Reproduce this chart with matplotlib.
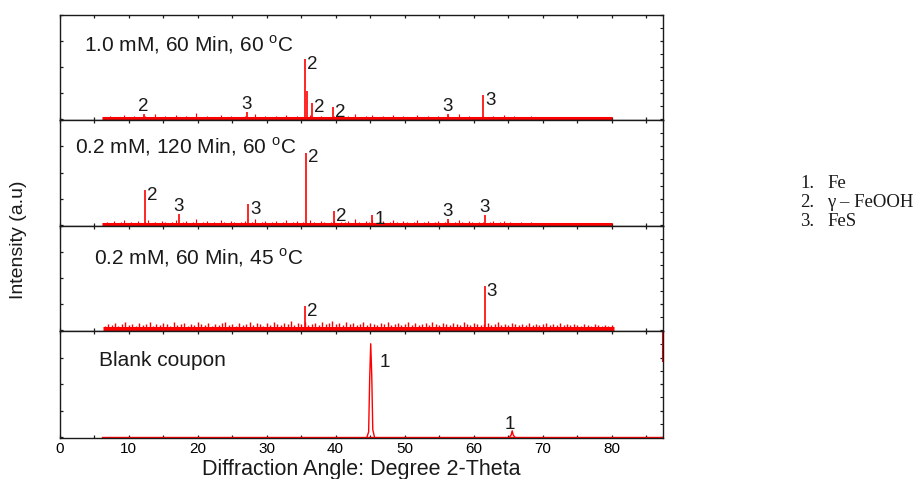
import numpy as np
import matplotlib
matplotlib.use("Agg")
import matplotlib.pyplot as plt
from matplotlib.ticker import MultipleLocator

plt.rcParams['font.family'] = ['Liberation Sans', 'DejaVu Sans']
plt.rcParams['mathtext.fontset'] = 'custom'
plt.rcParams['mathtext.rm'] = 'Liberation Sans'

RED = '#ff0000'
INK = '#1a1a1a'

# ---- data -------------------------------------------------------------
conditions = ['1.0 mM, 60 Min, 60 $^{\\rm o}$C',
              '0.2 mM, 120 Min, 60 $^{\\rm o}$C',
              '0.2 mM, 60 Min, 45 $^{\\rm o}$C',
              'Blank coupon']

# scan range (2-theta) of each pattern
scan_start = [6.1, 6.1, 6.3, 6.1]
scan_end = [80.0, 80.0, 80.3, 87.5]
bg_step = 0.5

# indexed reflections: position, relative intensity, phase number
peaks1_pos = [12.2, 27.1, 35.6, 35.85, 36.6, 39.6, 56.3, 61.4]
peaks1_h = [0.05, 0.07, 0.58, 0.27, 0.16, 0.12, 0.05, 0.23]
peaks1_lbl = ['2', '3', '2', '', '2', '2', '3', '3']
peaks1_side = ['a', 'a', 'r', '', 'r', 'r', 'a', 'r']

peaks2_pos = [12.4, 17.3, 27.3, 35.7, 39.8, 45.3, 56.3, 61.6]
peaks2_h = [0.33, 0.11, 0.20, 0.69, 0.13, 0.10, 0.06, 0.10]
peaks2_lbl = ['2', '3', '3', '2', '2', '1', '3', '3']
peaks2_side = ['r', 'a', 'r', 'r', 'r', 'r', 'a', 'a']

peaks3_pos = [35.6, 61.6]
peaks3_h = [0.23, 0.42]
peaks3_lbl = ['2', '3']
peaks3_side = ['r', 'r']

# blank coupon: Fe reflections recorded as line profiles
fe110_x = [44.55, 44.8, 44.95, 45.1, 45.25, 45.4, 45.65]
fe110_y = [0.0, 0.05, 0.55, 0.88, 0.58, 0.07, 0.0]
fe200_x = [65.2, 65.45, 65.6, 65.75, 66.0]
fe200_y = [0.0, 0.02, 0.06, 0.02, 0.0]
fe_lbl_pos = [45.1, 65.6]
fe_lbl_h = [0.88, 0.06]
edge_rise = (0.71, 1.0)

# background counts on a 0.5 deg grid
bg1 = [0.02, 0.01, 0.03, 0.02, 0.01, 0.02, 0.04, 0.01, 0.02, 0.03,
       0.01, 0.02, 0.03, 0.01, 0.02, 0.05, 0.02, 0.01, 0.03, 0.02,
       0.02, 0.04, 0.01, 0.02, 0.03, 0.01, 0.02, 0.06, 0.02, 0.01,
       0.03, 0.02, 0.01, 0.02, 0.04, 0.02, 0.01, 0.03, 0.02, 0.01,
       0.02, 0.03, 0.01, 0.02, 0.05, 0.01, 0.02, 0.03, 0.02, 0.01,
       0.03, 0.01, 0.02, 0.04, 0.02, 0.01, 0.03, 0.02, 0.01, 0.02,
       0.04, 0.02, 0.01, 0.03, 0.02, 0.01, 0.02, 0.03, 0.01, 0.02,
       0.02, 0.03, 0.01, 0.05, 0.02, 0.01, 0.03, 0.02, 0.04, 0.01,
       0.02, 0.03, 0.01, 0.02, 0.04, 0.02, 0.01, 0.03, 0.02, 0.01,
       0.02, 0.04, 0.01, 0.02, 0.03, 0.01, 0.02, 0.03, 0.01, 0.02,
       0.03, 0.01, 0.02, 0.05, 0.02, 0.01, 0.03, 0.02, 0.01, 0.02,
       0.03, 0.01, 0.02, 0.03, 0.01, 0.02, 0.04, 0.01, 0.02, 0.03,
       0.01, 0.02, 0.02, 0.01, 0.03, 0.01, 0.02, 0.01, 0.02, 0.01,
       0.02, 0.01, 0.02, 0.01, 0.01, 0.02, 0.01, 0.02, 0.01, 0.01,
       0.01, 0.02, 0.01, 0.01, 0.02, 0.01, 0.01, 0.01]
bg2 = [0.02, 0.03, 0.02, 0.04, 0.02, 0.03, 0.05, 0.02, 0.03, 0.02,
       0.04, 0.02, 0.03, 0.05, 0.02, 0.03, 0.02, 0.04, 0.03, 0.02,
       0.03, 0.05, 0.02, 0.03, 0.04, 0.02, 0.03, 0.06, 0.02, 0.03,
       0.04, 0.02, 0.03, 0.02, 0.05, 0.03, 0.02, 0.04, 0.03, 0.02,
       0.03, 0.04, 0.02, 0.03, 0.06, 0.02, 0.03, 0.04, 0.02, 0.03,
       0.04, 0.02, 0.03, 0.05, 0.02, 0.03, 0.04, 0.02, 0.03, 0.02,
       0.05, 0.03, 0.02, 0.04, 0.03, 0.02, 0.03, 0.04, 0.02, 0.03,
       0.03, 0.04, 0.02, 0.06, 0.03, 0.02, 0.04, 0.03, 0.05, 0.02,
       0.03, 0.04, 0.02, 0.03, 0.05, 0.03, 0.02, 0.04, 0.03, 0.02,
       0.03, 0.05, 0.02, 0.03, 0.04, 0.02, 0.03, 0.04, 0.02, 0.03,
       0.04, 0.02, 0.03, 0.05, 0.03, 0.02, 0.04, 0.03, 0.02, 0.03,
       0.03, 0.02, 0.03, 0.04, 0.02, 0.03, 0.04, 0.02, 0.03, 0.02,
       0.02, 0.03, 0.02, 0.02, 0.03, 0.02, 0.02, 0.01, 0.02, 0.02,
       0.02, 0.01, 0.02, 0.02, 0.01, 0.02, 0.01, 0.02, 0.01, 0.01,
       0.02, 0.01, 0.02, 0.01, 0.01, 0.02, 0.01, 0.01]
bg3 = [0.04, 0.06, 0.05, 0.07, 0.04, 0.06, 0.08, 0.05, 0.06, 0.04,
       0.07, 0.05, 0.06, 0.08, 0.04, 0.06, 0.05, 0.07, 0.06, 0.04,
       0.08, 0.05, 0.06, 0.07, 0.04, 0.06, 0.05, 0.08, 0.06, 0.05,
       0.07, 0.04, 0.06, 0.05, 0.07, 0.08, 0.05, 0.06, 0.04, 0.07,
       0.05, 0.06, 0.08, 0.05, 0.07, 0.06, 0.04, 0.07, 0.05, 0.08,
       0.06, 0.05, 0.07, 0.06, 0.09, 0.05, 0.07, 0.06, 0.08, 0.05,
       0.06, 0.07, 0.05, 0.08, 0.06, 0.07, 0.09, 0.06, 0.07, 0.05,
       0.08, 0.06, 0.07, 0.05, 0.06, 0.08, 0.05, 0.07, 0.06, 0.05,
       0.07, 0.06, 0.08, 0.05, 0.06, 0.07, 0.05, 0.06, 0.08, 0.05,
       0.07, 0.05, 0.06, 0.07, 0.05, 0.08, 0.06, 0.05, 0.07, 0.06,
       0.05, 0.07, 0.06, 0.05, 0.08, 0.06, 0.05, 0.07, 0.06, 0.05,
       0.06, 0.07, 0.05, 0.06, 0.08, 0.05, 0.06, 0.05, 0.07, 0.06,
       0.05, 0.06, 0.05, 0.07, 0.05, 0.06, 0.05, 0.06, 0.07, 0.05,
       0.06, 0.05, 0.07, 0.05, 0.06, 0.05, 0.06, 0.05, 0.04, 0.06,
       0.05, 0.04, 0.06, 0.05, 0.04, 0.05, 0.04, 0.05]

x_ticks = [0, 10, 20, 30, 40, 50, 60, 70, 80]
phases = [('1.', 'Fe'), ('2.', '\u03b3 \u2013 FeOOH'), ('3.', 'FeS')]

# ---- layout -----------------------------------------------------------
W, H = 921, 479
fig = plt.figure(figsize=(W / 100, H / 100), dpi=100)
left_px, right_px = 59.5, 663.3
edges_px = [15, 120, 226, 331, 438]
X_MAX = 87.5

axes = []
for i in range(4):
    top, bot = edges_px[i], edges_px[i + 1]
    ax = fig.add_axes([left_px / W, 1 - bot / H,
                       (right_px - left_px) / W, (bot - top) / H])
    ax.set_xlim(0, X_MAX)
    ax.set_ylim(-0.008, 1.0)
    for s in ax.spines.values():
        s.set_color(INK)
        s.set_linewidth(1.0)
    ax.xaxis.set_major_locator(MultipleLocator(10))
    ax.xaxis.set_minor_locator(MultipleLocator(5))
    ax.yaxis.set_major_locator(MultipleLocator(0.25))
    ax.yaxis.set_minor_locator(MultipleLocator(0.125))
    ax.tick_params(axis='x', which='both', direction='in', top=True,
                   bottom=True, length=2.5, width=0.9, color=INK,
                   labelbottom=(i == 3), labelsize=11, pad=3)
    ax.tick_params(axis='y', which='major', direction='in', left=True,
                   right=True, length=2.5, width=0.9, color=INK,
                   labelleft=False)
    ax.tick_params(axis='y', which='minor', direction='in', left=False,
                   right=True, length=2.0, width=0.8, color=INK)
    axes.append(ax)

label_font = dict(fontsize=13.5, color=INK)


def draw_pattern(ax, start, end, bg, pos, h, lbl, side, dense=False):
    grid = np.arange(start + bg_step / 2, end, bg_step)[:len(bg)]
    ax.plot([start, end], [0.008, 0.008], color=RED,
            lw=3.6 if dense else 2.2, solid_capstyle='butt')
    ax.vlines(grid, 0, bg, color=RED, lw=1.0 if dense else 0.8)
    ax.vlines(pos, 0, h, color=RED, lw=1.2)
    for p, v, t, sd in zip(pos, h, lbl, side):
        if not t:
            continue
        if sd == 'r':
            ax.text(p + 0.3, v + 0.03, t, ha='left', va='top', **label_font)
        else:
            ax.text(p, v - 0.01, t, ha='center', va='bottom', **label_font)


draw_pattern(axes[0], scan_start[0], scan_end[0], bg1,
             peaks1_pos, peaks1_h, peaks1_lbl, peaks1_side)
draw_pattern(axes[1], scan_start[1], scan_end[1], bg2,
             peaks2_pos, peaks2_h, peaks2_lbl, peaks2_side)
draw_pattern(axes[2], scan_start[2], scan_end[2], bg3,
             peaks3_pos, peaks3_h, peaks3_lbl, peaks3_side, dense=True)

# blank coupon
ax = axes[3]
ax.plot([scan_start[3], scan_end[3]], [0.004, 0.004], color=RED, lw=1.0)
ax.plot(fe110_x, fe110_y, color=RED, lw=1.0)
ax.plot(fe200_x, fe200_y, color=RED, lw=1.0)
ax.vlines(scan_end[3] - 0.05, edge_rise[0], edge_rise[1], color=RED, lw=1.5,
          clip_on=False)
ax.text(fe_lbl_pos[0] + 1.3, fe_lbl_h[0] - 0.1, '1', ha='left', va='top',
        **label_font)
ax.text(fe_lbl_pos[1] - 0.3, fe_lbl_h[1] - 0.02, '1', ha='center',
        va='bottom', **label_font)
ax.set_xticks(x_ticks)
ax.set_xticklabels([str(t) for t in x_ticks])
ax.set_xlabel('Diffraction Angle: Degree 2-Theta', fontsize=15.5,
              color=INK, labelpad=2)

# condition labels
title_pos = [(0.041, 0.72), (0.026, 0.75), (0.057, 0.70), (0.065, 0.72)]
for ax, t, (tx, ty) in zip(axes, conditions, title_pos):
    ax.text(tx, ty, t, transform=ax.transAxes, ha='left', va='center',
            fontsize=15, color=INK)

fig.text(19 / W, 1 - 240 / H, 'Intensity (a.u)', rotation=90,
         ha='center', va='center', fontsize=14, color=INK)

# phase key
for k, (num, name) in enumerate(phases):
    yk = 1 - (184 + 18.5 * k) / H
    fig.text(800 / W, yk, num, ha='left', va='center',
             family=['Liberation Serif', 'DejaVu Serif'], fontsize=13.5,
             color=INK)
    fig.text(827 / W, yk, name, ha='left', va='center',
             family=['Liberation Serif', 'DejaVu Serif'], fontsize=13.5,
             color=INK)

fig.savefig('out.png', dpi=100)
